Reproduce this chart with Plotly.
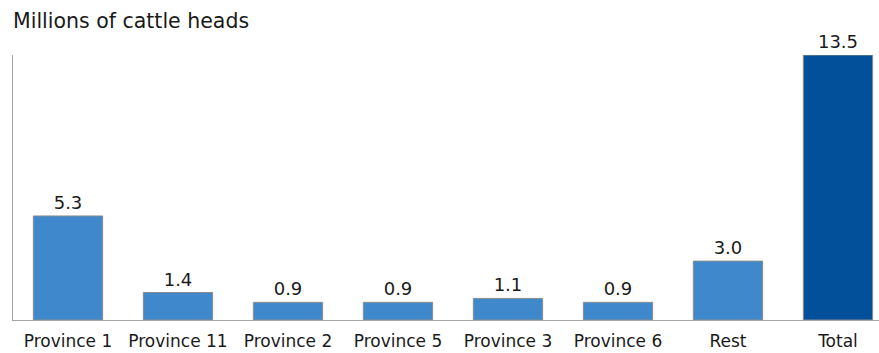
import plotly.graph_objects as go

categories = ["Province 1", "Province 11", "Province 2", "Province 5",
              "Province 3", "Province 6", "Rest", "Total"]
values = [5.3, 1.4, 0.9, 0.9, 1.1, 0.9, 3.0, 13.5]
value_labels = ["5.3", "1.4", "0.9", "0.9", "1.1", "0.9", "3.0", "13.5"]

light_blue = "#3F88CC"
dark_blue = "#03509A"
bar_colors = [dark_blue if c == "Total" else light_blue for c in categories]

FONT = "DejaVu Sans"

fig = go.Figure(
    go.Bar(
        x=categories,
        y=values,
        text=value_labels,
        textposition="outside",
        cliponaxis=False,
        textfont=dict(family=FONT, size=18, color="#1a1a1a"),
        marker=dict(color=bar_colors, line=dict(color="#8c8c8c", width=1)),
        hoverinfo="skip",
    )
)

fig.update_layout(
    width=879,
    height=353,
    margin=dict(l=13, r=0, t=55, b=33),
    plot_bgcolor="white",
    paper_bgcolor="white",
    bargap=0.37,
    showlegend=False,
    font=dict(family=FONT, color="#1a1a1a"),
    annotations=[
        dict(
            text="Millions of cattle heads",
            xref="paper", yref="paper",
            x=-0.002, y=1.0, yshift=34,
            xanchor="left", yanchor="middle",
            showarrow=False,
            font=dict(family=FONT, size=20.5, color="#1a1a1a"),
        )
    ],
)

fig.update_xaxes(
    range=[-0.5, 7.373],
    showline=True,
    linecolor="#a6a6a6",
    linewidth=1,
    ticks="",
    ticklabelstandoff=6,
    tickfont=dict(family=FONT, size=17, color="#1a1a1a"),
    showgrid=False,
)
fig.update_yaxes(
    range=[0, 13.5],
    showline=True,
    linecolor="#a6a6a6",
    linewidth=1,
    showticklabels=False,
    ticks="",
    showgrid=False,
    zeroline=False,
)

fig.write_html("out.html")
